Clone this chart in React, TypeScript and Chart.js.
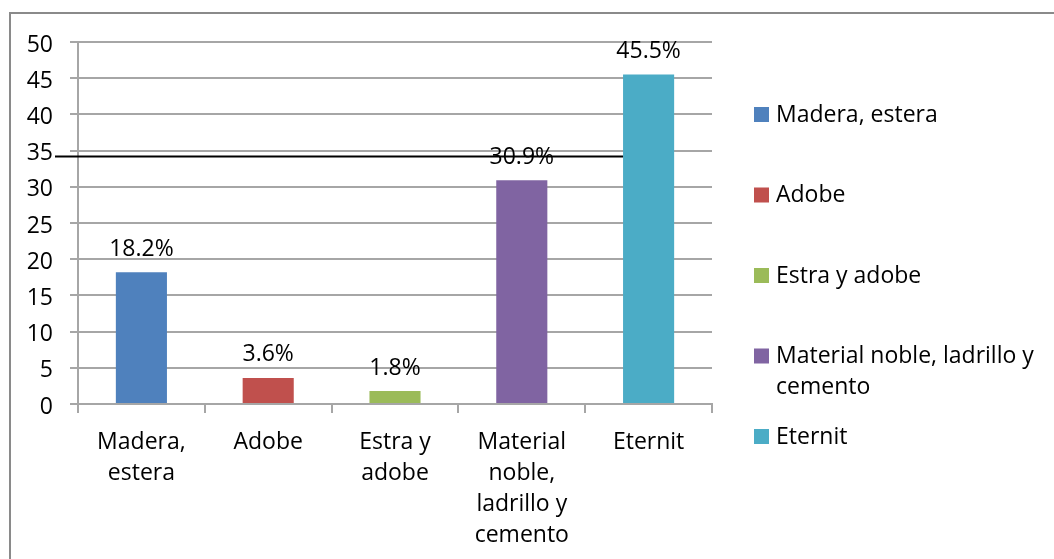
import React, { useEffect, useRef } from "react";
import { Chart, registerables } from "chart.js";

Chart.register(...registerables);

const categories: (string | string[])[] = [
  ["Madera,", "estera"],
  "Adobe",
  ["Estra y", "adobe"],
  ["Material", "noble,", "ladrillo y", "cemento"],
  "Eternit",
];
const legendLabels: string[][] = [
  ["Madera, estera"],
  ["Adobe"],
  ["Estra y adobe"],
  ["Material noble, ladrillo y", "cemento"],
  ["Eternit"],
];
const values: number[] = [18.2, 3.6, 1.8, 30.9, 45.5];
const valueLabels: string[] = ["18.2%", "3.6%", "1.8%", "30.9%", "45.5%"];
const colors: string[] = ["#4F81BD", "#C0504D", "#9BBB59", "#8064A2", "#4BACC6"];
const yTicksMin = 0;
const yTicksMax = 50;
const yTickStep = 5;
const refLineValue = 34.25;

const FONT = '"Open Sans", "Noto Sans", sans-serif';
const FONT_SIZE = 23;
const GRID = "#a6a6a6";

export default function App() {
  const ref = useRef<HTMLCanvasElement | null>(null);

  useEffect(() => {
    if (!ref.current) return;

    const decorations = {
      id: "decorations",
      beforeDraw(chart: any) {
        const ctx = chart.ctx;
        ctx.save();
        ctx.fillStyle = "#ffffff";
        ctx.fillRect(0, 0, chart.width, chart.height);
        ctx.strokeStyle = "#8a8a8a";
        ctx.lineWidth = 2;
        ctx.beginPath();
        ctx.moveTo(10, chart.height + 5);
        ctx.lineTo(10, 13);
        ctx.lineTo(chart.width + 5, 13);
        ctx.stroke();
        ctx.restore();
      },
      afterDatasetsDraw(chart: any) {
        const ctx = chart.ctx;
        const meta = chart.getDatasetMeta(0);
        const y = chart.scales.y;
        ctx.save();
        // value labels
        ctx.fillStyle = "#000";
        ctx.font = `${FONT_SIZE}px ${FONT}`;
        ctx.textAlign = "center";
        ctx.textBaseline = "middle";
        meta.data.forEach((bar: any, i: number) => {
          ctx.fillText(valueLabels[i], bar.x, bar.y - 23);
        });
        // reference line
        const last = meta.data[meta.data.length - 1];
        const py = Math.round(y.getPixelForValue(refLineValue)) + 0.5;
        ctx.strokeStyle = "#000";
        ctx.lineWidth = 2;
        ctx.beginPath();
        ctx.moveTo(chart.chartArea.left - 23, py);
        ctx.lineTo(last.x - last.width / 2, py);
        ctx.stroke();
        // legend
        const boxX = chart.chartArea.right + 42;
        const textX = boxX + 22;
        const startY = 115;
        const step = 80.5;
        const lh = 31;
        legendLabels.forEach((lines, i) => {
          const cy = startY + i * step;
          ctx.fillStyle = colors[i];
          ctx.fillRect(boxX, cy - 8, 15, 15);
          ctx.fillStyle = "#000";
          ctx.textAlign = "left";
          lines.forEach((t, j) => {
            ctx.fillText(t, textX, cy + j * lh);
          });
        });
        ctx.restore();
      },
    };

    const chart = new Chart(ref.current, {
      type: "bar",
      data: {
        labels: categories,
        datasets: [
          {
            label: "Valores",
            data: values,
            backgroundColor: colors,
            borderWidth: 0,
            barPercentage: 0.403,
            categoryPercentage: 1,
          },
        ],
      },
      options: {
        responsive: false,
        animation: false,
        devicePixelRatio: 1,
        layout: { padding: { left: 20, top: 42, right: 342, bottom: 0 } },
        plugins: {
          legend: { display: false },
          tooltip: { enabled: false },
          title: { display: false },
        },
        scales: {
          x: {
            afterFit(scale: any) {
              scale.height = 155;
            },
            grid: {
              display: true,
              drawOnChartArea: false,
              drawTicks: true,
              tickLength: 9,
              color: GRID,
              lineWidth: 2,
              offset: true,
            },
            border: { display: true, color: GRID, width: 2 },
            ticks: {
              color: "#000",
              font: { family: FONT, size: FONT_SIZE, lineHeight: 1.35 },
              padding: 14,
              maxRotation: 0,
              autoSkip: false,
            },
          },
          y: {
            min: yTicksMin,
            max: yTicksMax,
            afterFit(scale: any) {
              scale.width = 58;
            },
            grid: {
              display: true,
              drawOnChartArea: true,
              drawTicks: true,
              tickLength: 8,
              color: GRID,
              lineWidth: 2,
            },
            border: { display: true, color: GRID, width: 2 },
            ticks: {
              stepSize: yTickStep,
              color: "#000",
              font: { family: FONT, size: FONT_SIZE },
              padding: 17,
              labelOffset: 3,
            },
          },
        },
      },
      plugins: [decorations],
    });

    return () => chart.destroy();
  }, []);

  return (
    <div style={{ position: "absolute", left: 0, top: 0, width: 1054, height: 559, overflow: "hidden" }}>
      <canvas ref={ref} width={1054} height={559} style={{ display: "block", width: 1054, height: 559 }} />
    </div>
  );
}
